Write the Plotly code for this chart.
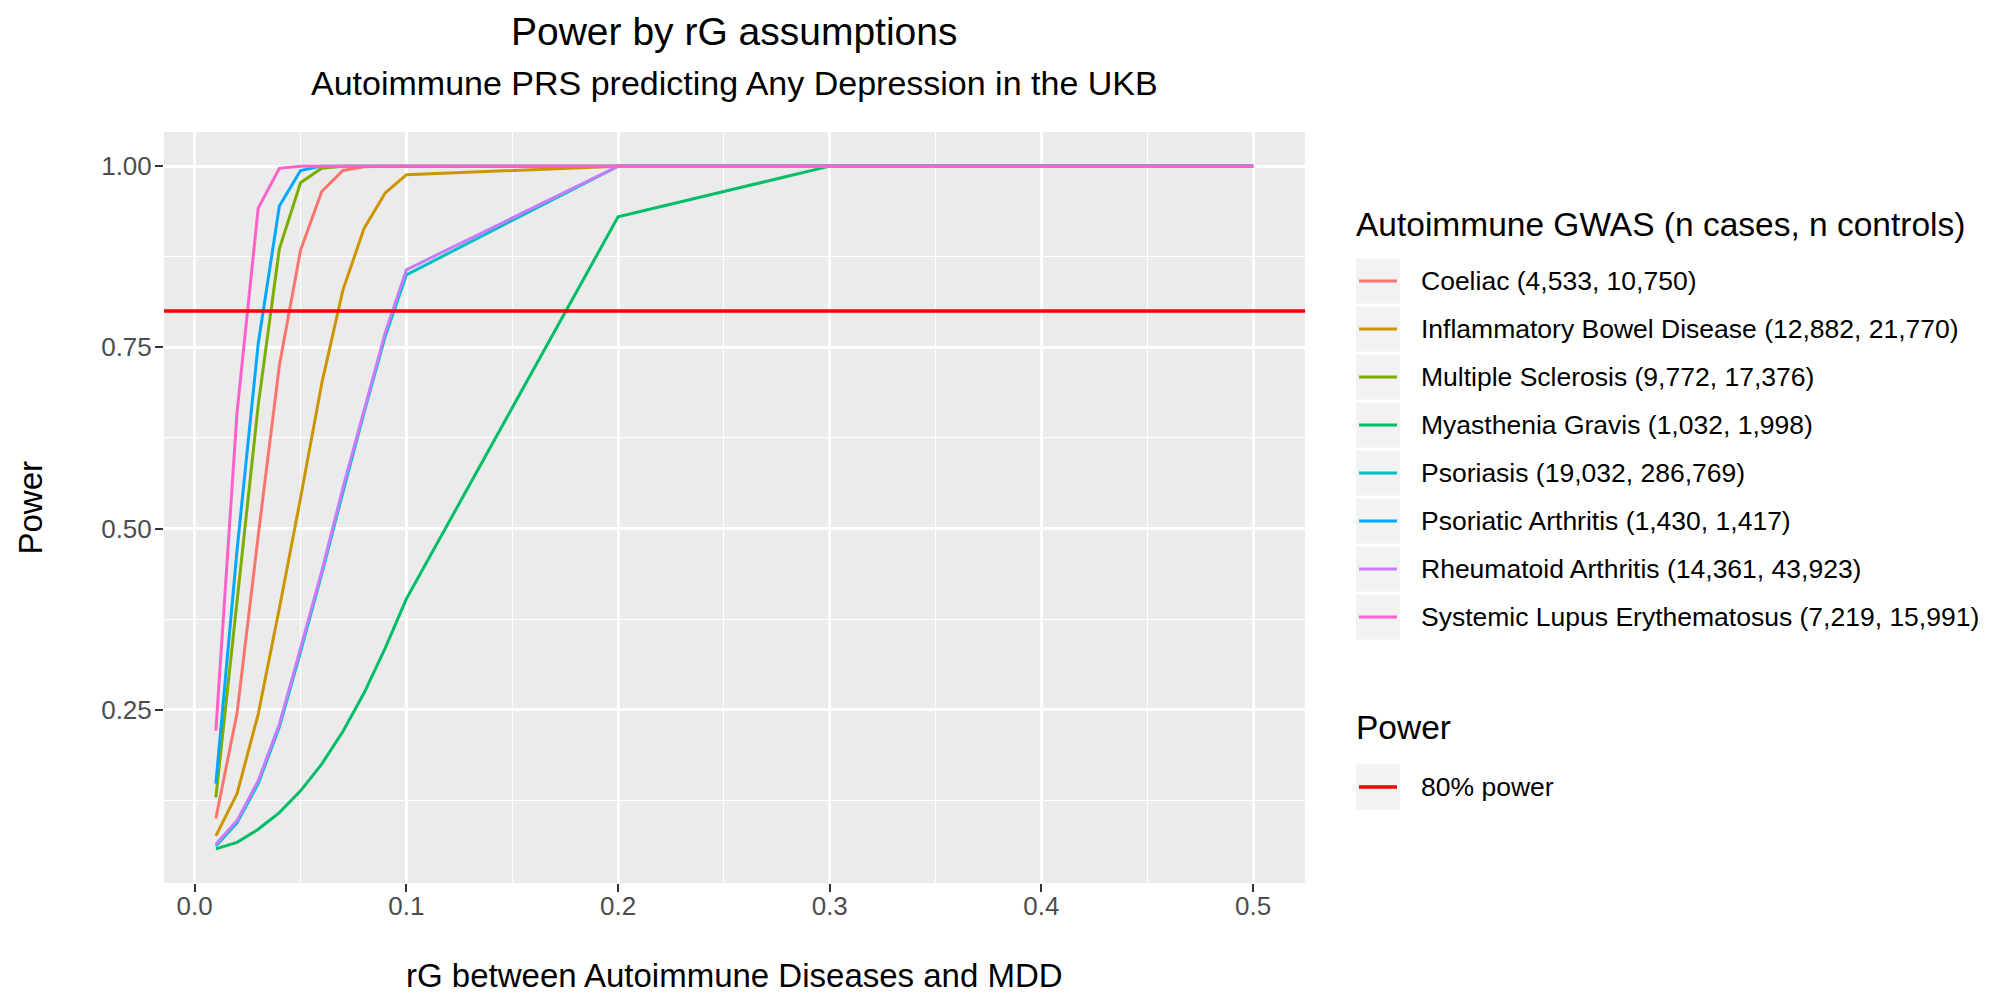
import plotly.graph_objects as go

# ---------------- data ----------------
rg = [0.01, 0.02, 0.03, 0.04, 0.05, 0.06, 0.07, 0.08, 0.09, 0.10, 0.2, 0.3, 0.4, 0.5]

coeliac = [0.100, 0.245, 0.490, 0.725, 0.884, 0.965, 0.994, 0.999, 1.0, 1.0, 1.0, 1.0, 1.0, 1.0]
ibd = [0.076, 0.134, 0.244, 0.390, 0.542, 0.700, 0.829, 0.914, 0.963, 0.988, 1.0, 1.0, 1.0, 1.0]
ms = [0.129, 0.400, 0.670, 0.886, 0.977, 0.997, 1.0, 1.0, 1.0, 1.0, 1.0, 1.0, 1.0, 1.0]
mg = [0.058, 0.067, 0.085, 0.108, 0.138, 0.175, 0.220, 0.273, 0.335, 0.403, 0.930, 1.0, 1.0, 1.0]
psoriasis = [0.062, 0.094, 0.148, 0.226, 0.330, 0.437, 0.550, 0.660, 0.765, 0.850, 1.0, 1.0, 1.0, 1.0]
psa = [0.148, 0.470, 0.755, 0.945, 0.994, 1.0, 1.0, 1.0, 1.0, 1.0, 1.0, 1.0, 1.0, 1.0]
ra = [0.0645, 0.097, 0.152, 0.230, 0.335, 0.441, 0.556, 0.665, 0.770, 0.857, 1.0, 1.0, 1.0, 1.0]
sle = [0.221, 0.660, 0.942, 0.997, 1.0, 1.0, 1.0, 1.0, 1.0, 1.0, 1.0, 1.0, 1.0, 1.0]

series_names = [
    "Coeliac (4,533, 10,750)",
    "Inflammatory Bowel Disease (12,882, 21,770)",
    "Multiple Sclerosis (9,772, 17,376)",
    "Myasthenia Gravis (1,032, 1,998)",
    "Psoriasis (19,032, 286,769)",
    "Psoriatic Arthritis (1,430, 1,417)",
    "Rheumatoid Arthritis (14,361, 43,923)",
    "Systemic Lupus Erythematosus (7,219, 15,991)",
]
series_values = [coeliac, ibd, ms, mg, psoriasis, psa, ra, sle]
series_colors = ["#F8766D", "#CD9600", "#7CAE00", "#00BE67",
                 "#00BFC4", "#00A9FF", "#C77CFF", "#FF61CC"]

power_threshold = 0.8
power_label = "80% power"

x_tick_vals = [0.0, 0.1, 0.2, 0.3, 0.4, 0.5]
x_tick_text = ["0.0", "0.1", "0.2", "0.3", "0.4", "0.5"]
x_minor_vals = [0.05, 0.15, 0.25, 0.35, 0.45]
y_tick_vals = [0.25, 0.50, 0.75, 1.00]
y_tick_text = ["0.25", "0.50", "0.75", "1.00"]
y_minor_vals = [0.125, 0.375, 0.625, 0.875]

title = "Power by rG assumptions"
subtitle = "Autoimmune PRS predicting Any Depression in the UKB"
x_title = "rG between Autoimmune Diseases and MDD"
y_title = "Power"
legend_title = "Autoimmune GWAS (n cases, n controls)"
legend2_title = "Power"

# ---------------- layout helpers ----------------
OFF = 8                     # page body margin
W, H = 2010 - OFF, 998 - OFF
SL, SR, ST, SB = 164, 1305, 132, 883   # panel edges in screen px


def px(x):
    return (x - SL) / (SR - SL)


def py(y):
    return (SB - y) / (SB - ST)


def expand(lo, hi, f=0.05):
    d = (hi - lo) * f
    return [lo - d, hi + d]


all_y = [v for s in series_values for v in s]
x_range = expand(min(rg), max(rg))
y_range = expand(min(all_y), max(all_y))

FONT = "Liberation Sans"

fig = go.Figure()
for name, vals, col in zip(series_names, series_values, series_colors):
    fig.add_trace(go.Scatter(x=rg, y=vals, mode="lines", name=name,
                             line=dict(color=col, width=3), showlegend=False))

fig.add_shape(type="line", xref="x domain", x0=0, x1=1, yref="y",
              y0=power_threshold, y1=power_threshold,
              line=dict(color="#FF0000", width=3.5), layer="above")

axis_common = dict(
    showgrid=True, gridcolor="white", gridwidth=2.6, zeroline=False,
    showline=False, ticks="outside", ticklen=8, tickwidth=2, tickcolor="#333333",
    tickfont=dict(family=FONT, size=26, color="#4D4D4D"),
)

fig.update_xaxes(range=x_range, tickmode="array", tickvals=x_tick_vals, ticktext=x_tick_text,
                 ticklabelstandoff=-8,
                 minor=dict(tickmode="array", tickvals=x_minor_vals, showgrid=True,
                            gridcolor="white", gridwidth=1.3, ticks=""),
                 **axis_common)
fig.update_yaxes(range=y_range, tickmode="array", tickvals=y_tick_vals, ticktext=y_tick_text,
                 ticklabelstandoff=-2,
                 minor=dict(tickmode="array", tickvals=y_minor_vals, showgrid=True,
                            gridcolor="white", gridwidth=1.3, ticks=""),
                 **axis_common)

annotations = []


def add_text(text, x, y, size, xanchor="center", color="black", angle=0):
    annotations.append(dict(text=text, x=px(x), y=py(y), xref="paper", yref="paper",
                            xanchor=xanchor, yanchor="middle", showarrow=False,
                            textangle=angle,
                            font=dict(family=FONT, size=size, color=color)))


cx = (SL + SR) / 2
add_text(title, cx, 31, 39)
add_text(subtitle, cx, 83, 34)
add_text(x_title, cx, 976, 33)
add_text(y_title, 30, (ST + SB) / 2, 33, angle=-90)

# custom ggplot-like legend
shapes = []
add_text(legend_title, 1354, 224, 33.5, xanchor="left")
row0, row_h = 281, 48
for i, (name, col) in enumerate(zip(series_names, series_colors)):
    yc = row0 + row_h * i
    shapes.append(dict(type="rect", xref="paper", yref="paper",
                       x0=px(1356), x1=px(1400), y0=py(yc - 22.5), y1=py(yc + 22.5),
                       fillcolor="#F2F2F2", line=dict(width=0), layer="below"))
    shapes.append(dict(type="line", xref="paper", yref="paper",
                       x0=px(1359), x1=px(1397), y0=py(yc), y1=py(yc),
                       line=dict(color=col, width=3)))
    add_text(name, 1419, yc, 26.5, xanchor="left")

add_text(legend2_title, 1354, 727, 33.5, xanchor="left")
yc = 787
shapes.append(dict(type="rect", xref="paper", yref="paper",
                   x0=px(1356), x1=px(1400), y0=py(yc - 22.5), y1=py(yc + 22.5),
                   fillcolor="#F2F2F2", line=dict(width=0), layer="below"))
shapes.append(dict(type="line", xref="paper", yref="paper",
                   x0=px(1359), x1=px(1397), y0=py(yc), y1=py(yc),
                   line=dict(color="#FF0000", width=3.5)))
add_text(power_label, 1419, yc, 26.5, xanchor="left")

for s in shapes:
    fig.add_shape(**s)

fig.update_layout(
    width=W, height=H,
    margin=dict(l=SL - OFF, r=(W + OFF) - SR, t=ST - OFF, b=(H + OFF) - SB, autoexpand=False),
    plot_bgcolor="#EBEBEB", paper_bgcolor="white",
    annotations=annotations,
    showlegend=False,
    font=dict(family=FONT),
)

fig.write_html("out.html")
